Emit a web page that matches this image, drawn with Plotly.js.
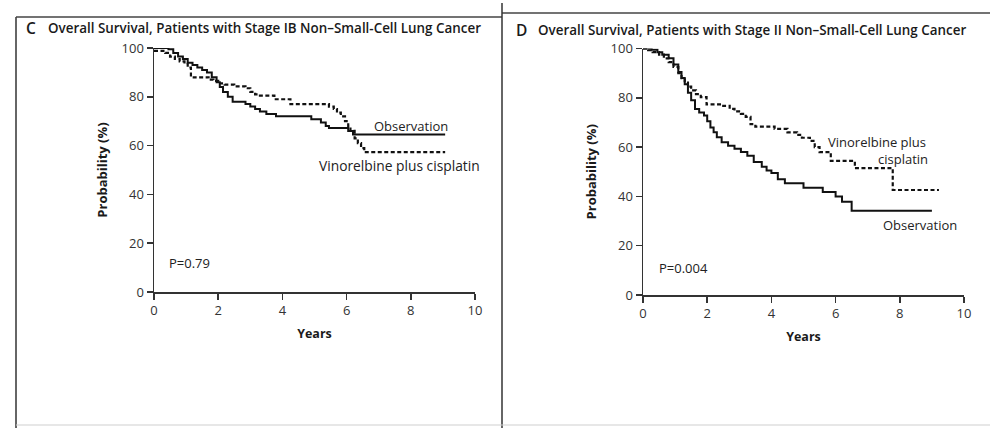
<!DOCTYPE html>
<html>
<head>
<meta charset="utf-8">
<script src="https://cdn.plot.ly/plotly-3.0.1.min.js"></script>
<style>html,body{margin:0;padding:0;background:#fff;}#chart{width:990px;height:428px;}</style>
</head>
<body>
<div id="chart"></div>
<script>
// Panel C: Stage IB
const yearsC_obs = [0, 0.45, 0.6, 0.75, 0.9, 1.05, 1.2, 1.35, 1.5, 1.65, 1.8, 1.95, 2.05, 2.15, 2.3, 2.45, 2.85, 3.0, 3.15, 3.3, 3.5, 3.8, 4.9, 5.2, 5.35, 5.45, 6.05, 6.2, 9.07];
const survC_obs  = [100, 99.5, 98, 96.5, 95.5, 94, 93, 92, 91, 90, 88, 86, 84, 82, 80, 78, 77, 76, 75, 74, 73, 72, 70.8, 69.5, 68, 67.2, 66, 64.6, 64.6];
const yearsC_vc  = [0, 0.35, 0.5, 0.65, 0.8, 0.95, 1.05, 1.15, 1.7, 1.85, 2.0, 2.2, 2.5, 2.85, 3.0, 3.15, 3.3, 3.75, 4.25, 5.45, 5.6, 5.7, 5.82, 5.95, 6.05, 6.12, 6.25, 6.35, 6.45, 6.55, 9.07];
const survC_vc   = [98.8, 98, 96.5, 95.5, 94.5, 93.5, 92, 88, 87, 86.5, 85.5, 85, 84.3, 83.5, 82, 81, 80.5, 79, 77, 76, 75, 73.5, 72, 70, 68, 66, 63, 61, 59, 57.3, 57.3];
// Panel D: Stage II
const yearsD_obs = [0, 0.27, 0.45, 0.6, 0.8, 0.95, 1.1, 1.2, 1.3, 1.4, 1.5, 1.62, 1.75, 1.9, 2.0, 2.1, 2.2, 2.3, 2.45, 2.65, 2.85, 3.05, 3.25, 3.45, 3.7, 3.85, 4.0, 4.2, 4.42, 5.0, 5.6, 6.0, 6.2, 6.5, 9.0];
const survD_obs  = [100, 99.5, 98.5, 97.5, 96, 93.5, 90.5, 88, 85.5, 82, 79, 75.5, 74, 72.8, 70.5, 68, 66, 64, 62, 60.5, 59.3, 58, 56.5, 54, 52, 50.5, 49.5, 47, 45.3, 43.5, 41.8, 40, 37.8, 34.2, 34.2];
const yearsD_vc  = [0, 0.16, 0.3, 0.5, 0.65, 0.8, 0.95, 1.1, 1.2, 1.3, 1.4, 1.5, 1.65, 1.8, 1.98, 2.5, 2.7, 2.85, 3.05, 3.2, 3.35, 3.5, 4.1, 4.5, 4.8, 4.95, 5.2, 5.35, 5.5, 5.85, 6.6, 7.78, 9.22];
const survD_vc   = [100, 99.3, 98.5, 97.5, 96, 94.5, 92.5, 90, 88, 86.2, 84.5, 83, 81.5, 80.3, 77.3, 76.7, 75.5, 74.5, 73.5, 72.3, 69.3, 68.3, 67.4, 66, 65, 63.8, 62.5, 60, 58, 54.4, 51.5, 42.6, 42.6];

const xTicks = [0, 2, 4, 6, 8, 10];
const yTicks = [0, 20, 40, 60, 80, 100];

const W = 990, H = 428;
const px = x => x / W;
const py = y => 1 - y / H;
const FONT = 'Open Sans, Noto Sans, sans-serif';
const INK = '#1a1a1a';

function solid(x, y, xa, ya) {
  return {x: x, y: y, xaxis: xa, yaxis: ya, type: 'scatter', mode: 'lines',
    line: {shape: 'hv', color: '#111', width: 2}, showlegend: false, hoverinfo: 'skip'};
}
function dashed(x, y, xa, ya) {
  return {x: x, y: y, xaxis: xa, yaxis: ya, type: 'scatter', mode: 'lines',
    line: {shape: 'hv', color: '#111', width: 2.2, dash: '4px,2.5px'}, showlegend: false, hoverinfo: 'skip'};
}

const data = [
  solid(yearsC_obs, survC_obs, 'x', 'y'),
  dashed(yearsC_vc, survC_vc, 'x', 'y'),
  solid(yearsD_obs, survD_obs, 'x2', 'y2'),
  dashed(yearsD_vc, survD_vc, 'x2', 'y2')
];

function xaxisDef(dom, anchor) {
  return {domain: dom, anchor: anchor, range: [0, 10], tickvals: xTicks, ticktext: xTicks.map(String),
    showgrid: false, zeroline: false, showline: true, linecolor: '#333', linewidth: 1.5,
    ticks: 'outside', ticklen: 6, tickwidth: 1.5, tickcolor: '#333',
    tickfont: {family: FONT, size: 13, color: '#333'}, fixedrange: true,
    title: {text: 'Years', font: {family: FONT, size: 12.5, color: INK, weight: 700}, standoff: 11}};
}
function yaxisDef(dom, anchor) {
  return {domain: dom, anchor: anchor, range: [0, 100], tickvals: yTicks, ticktext: yTicks.map(String),
    showgrid: false, zeroline: false, showline: true, linecolor: '#333', linewidth: 1.5,
    ticks: 'outside', ticklen: 6, tickwidth: 1.5, tickcolor: '#333',
    tickfont: {family: FONT, size: 13, color: '#333'}, fixedrange: true,
    title: {text: 'Probability (%)', font: {family: FONT, size: 13, color: INK, weight: 700}, standoff: 11}};
}

function ptxt(x, y, text, opts) {
  return Object.assign({xref: 'paper', yref: 'paper', x: px(x), y: py(y), text: text, showarrow: false,
    xanchor: 'left', yanchor: 'middle', font: {family: FONT, size: 13, color: '#222'}}, opts || {});
}
function dtxt(xa, ya, x, y, text, opts) {
  return Object.assign({xref: xa, yref: ya, x: x, y: y, text: text, showarrow: false,
    xanchor: 'left', yanchor: 'middle', font: {family: FONT, size: 13, color: '#222'}}, opts || {});
}

const annotations = [
  ptxt(24, 28, 'C', {font: {family: FONT, size: 15.5, color: INK, weight: 600}}),
  ptxt(46, 28, 'Overall Survival, Patients with Stage IB Non\u2013Small-Cell Lung Cancer', {font: {family: FONT, size: 13.4, color: INK, weight: 600}}),
  ptxt(514, 30, 'D', {font: {family: FONT, size: 15.5, color: INK, weight: 600}}),
  ptxt(536, 30, 'Overall Survival, Patients with Stage II Non\u2013Small-Cell Lung Cancer', {font: {family: FONT, size: 13.4, color: INK, weight: 600}}),
  dtxt('x', 'y', 6.8, 68.2, 'Observation'),
  dtxt('x', 'y', 5.08, 52, 'Vinorelbine plus cisplatin', {font: {family: FONT, size: 13.8, color: '#222'}}),
  dtxt('x', 'y', 0.42, 11.8, 'P=0.79'),
  dtxt('x2', 'y2', 5.7, 62, 'Vinorelbine plus'),
  dtxt('x2', 'y2', 8.95, 55.1, 'cisplatin', {xanchor: 'right'}),
  dtxt('x2', 'y2', 7.42, 28.5, 'Observation'),
  dtxt('x2', 'y2', 0.44, 11.1, 'P=0.004')
];

const shapes = [
  {type: 'line', xref: 'paper', yref: 'paper', x0: px(16), x1: px(16), y0: py(17), y1: py(428), line: {color: '#333', width: 1.5}},
  {type: 'line', xref: 'paper', yref: 'paper', x0: px(16), x1: px(502), y0: py(17), y1: py(17), line: {color: '#444', width: 1.5}},
  {type: 'line', xref: 'paper', yref: 'paper', x0: px(502), x1: px(990), y0: py(13), y1: py(13), line: {color: '#444', width: 1.5}},
  {type: 'line', xref: 'paper', yref: 'paper', x0: px(502), x1: px(502), y0: py(3), y1: py(428), line: {color: '#333', width: 1.5}},
  {type: 'line', xref: 'paper', yref: 'paper', x0: px(16), x1: px(990), y0: py(425), y1: py(425), line: {color: '#cfcfcf', width: 1}}
];

const layout = {
  width: W, height: H,
  margin: {l: 0, r: 0, t: 0, b: 0},
  paper_bgcolor: '#fff', plot_bgcolor: 'rgba(0,0,0,0)',
  showlegend: false,
  xaxis: xaxisDef([px(154), px(475)], 'y'),
  yaxis: yaxisDef([1 - 292 / H, 1 - 48 / H], 'x'),
  xaxis2: xaxisDef([px(643), px(964)], 'y2'),
  yaxis2: yaxisDef([1 - 295 / H, 1 - 48.5 / H], 'x2'),
  annotations: annotations,
  shapes: shapes
};

Plotly.newPlot('chart', data, layout, {staticPlot: true, displayModeBar: false});
</script>
</body>
</html>
